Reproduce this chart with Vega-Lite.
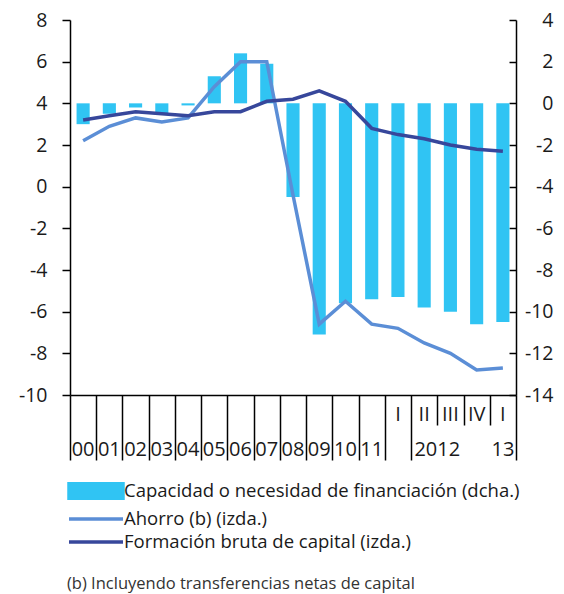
{
  "$schema": "https://vega.github.io/schema/vega-lite/v6.json",
  "width": 446,
  "height": 375,
  "autosize": {"type": "none"},
  "padding": {"left": 70, "top": 20, "right": 48, "bottom": 199},
  "config": {
    "font": "Open Sans",
    "view": {"stroke": null},
    "axis": {
      "grid": false,
      "domainColor": "#000000",
      "tickColor": "#000000",
      "labelColor": "#1a1a1a",
      "labelFont": "Open Sans",
      "labelFontSize": 19.5,
      "domainWidth": 1.5,
      "tickWidth": 1.5
    }
  },
  "data": {
    "values": [
      {"periodo": "00", "cap": -1.0, "ahorro": 2.2, "fbc": 3.2},
      {"periodo": "01", "cap": -0.5, "ahorro": 2.9, "fbc": 3.4},
      {"periodo": "02", "cap": -0.2, "ahorro": 3.3, "fbc": 3.6},
      {"periodo": "03", "cap": -0.5, "ahorro": 3.1, "fbc": 3.5},
      {"periodo": "04", "cap": -0.1, "ahorro": 3.3, "fbc": 3.4},
      {"periodo": "05", "cap": 1.3, "ahorro": 4.8, "fbc": 3.6},
      {"periodo": "06", "cap": 2.4, "ahorro": 6.0, "fbc": 3.6},
      {"periodo": "07", "cap": 1.9, "ahorro": 6.0, "fbc": 4.1},
      {"periodo": "08", "cap": -4.5, "ahorro": -0.4, "fbc": 4.2},
      {"periodo": "09", "cap": -11.1, "ahorro": -6.6, "fbc": 4.6},
      {"periodo": "10", "cap": -9.6, "ahorro": -5.5, "fbc": 4.1},
      {"periodo": "11", "cap": -9.4, "ahorro": -6.6, "fbc": 2.8},
      {"periodo": "2012-I", "cap": -9.3, "ahorro": -6.8, "fbc": 2.5},
      {"periodo": "2012-II", "cap": -9.8, "ahorro": -7.5, "fbc": 2.3},
      {"periodo": "2012-III", "cap": -10.0, "ahorro": -8.0, "fbc": 2.0},
      {"periodo": "2012-IV", "cap": -10.6, "ahorro": -8.8, "fbc": 1.8},
      {"periodo": "2013-I", "cap": -10.5, "ahorro": -8.7, "fbc": 1.7}
    ]
  },
  "layer": [
    {
      "mark": {"type": "bar", "width": {"band": 0.5}},
      "encoding": {
        "x": {
          "field": "periodo",
          "type": "nominal",
          "sort": null,
          "scale": {"paddingInner": 0, "paddingOuter": 0},
          "axis": {
            "orient": "bottom",
            "title": null,
            "labels": false,
            "domain": true,
            "ticks": true,
            "tickBand": "extent",
            "tickSize": {"condition": {"test": "indexof(['2012-II','2012-III','2012-IV'], datum.value) >= 0", "value": 30}, "value": 65}
          }
        },
        "y": {
          "field": "cap",
          "type": "quantitative",
          "scale": {"domain": [-14, 4], "nice": false, "zero": false},
          "axis": {
            "orient": "right",
            "title": null,
            "values": [-14, -12, -10, -8, -6, -4, -2, 0, 2, 4],
            "labelExpr": "'' + datum.value",
            "tickSize": -7,
            "labelPadding": 44,
            "labelAlign": "right"
          }
        },
        "color": {
          "datum": "Capacidad o necesidad de financiación (dcha.)",
          "scale": {
            "domain": ["Capacidad o necesidad de financiación (dcha.)", "Ahorro (b) (izda.)", "Formación bruta de capital (izda.)"],
            "range": ["#30C4F3", "#5B8ED6", "#37479B"]
          },
          "legend": {
            "orient": "none",
            "legendX": -3,
            "legendY": 461,
            "title": "(b) Incluyendo transferencias netas de capital",
            "titleOrient": "bottom",
            "titleAnchor": "start",
            "titlePadding": 24,
            "titleFontSize": 16.5,
            "titleFontWeight": "normal",
            "titleColor": "#333333",
            "titleLimit": 500,
            "labelFontSize": 18.5,
            "labelColor": "#1a1a1a",
            "labelLimit": 500,
            "labelOffset": 37,
            "symbolSize": 256,
            "rowPadding": 3,
            "encode": {
              "symbols": {
                "update": {
                  "shape": {"signal": "datum.value === 'Capacidad o necesidad de financiación (dcha.)' ? 'M-1,-0.9H5.75V0.9H-1Z' : 'M-1,0H5.75'"},
                  "fill": {"signal": "datum.value === 'Capacidad o necesidad de financiación (dcha.)' ? '#30C4F3' : 'transparent'"},
                  "stroke": {"signal": "datum.value === 'Ahorro (b) (izda.)' ? '#5B8ED6' : (datum.value === 'Formación bruta de capital (izda.)' ? '#37479B' : 'transparent')"},
                  "strokeWidth": {"value": 3.5},
                  "opacity": {"value": 1}
                }
              }
            }
          }
        }
      }
    },
    {
      "mark": {"type": "line", "strokeWidth": 3.5},
      "encoding": {
        "x": {
          "field": "periodo",
          "type": "nominal",
          "sort": null,
          "axis": {
            "orient": "bottom",
            "title": null,
            "domain": false,
            "ticks": false,
            "labelExpr": "indexof(datum.value, '-') > 0 ? split(datum.value, '-')[1] : ''",
            "labelBaseline": "alphabetic",
            "labelPadding": 25,
            "labelFontSize": 20,
            "labelOverlap": false,
            "labelBound": false,
            "labelAngle": 0
          }
        },
        "y": {
          "field": "ahorro",
          "type": "quantitative",
          "scale": {"domain": [-10, 8], "nice": false, "zero": false},
          "axis": {
            "orient": "left",
            "title": null,
            "values": [-10, -8, -6, -4, -2, 0, 2, 4, 6, 8],
            "labelExpr": "'' + datum.value",
            "tickSize": 8,
            "labelPadding": 15
          }
        },
        "color": {"datum": "Ahorro (b) (izda.)"}
      }
    },
    {
      "mark": {"type": "line", "strokeWidth": 3.5},
      "encoding": {
        "x": {
          "field": "periodo",
          "type": "nominal",
          "sort": null,
          "axis": {
            "orient": "bottom",
            "title": null,
            "domain": false,
            "ticks": false,
            "labelExpr": "datum.value == '2012-II' ? '2012' : (datum.value == '2013-I' ? '13' : (indexof(datum.value, '-') > 0 ? '' : datum.value))",
            "labelOffset": {"condition": {"test": "datum.value == '2012-II'", "value": 13.1}, "value": 0},
            "labelBaseline": "alphabetic",
            "labelPadding": 60,
            "labelFontSize": 20,
            "labelOverlap": false,
            "labelBound": false,
            "labelAngle": 0
          }
        },
        "y": {
          "field": "fbc",
          "type": "quantitative",
          "scale": {"domain": [-10, 8], "nice": false, "zero": false},
          "axis": null
        },
        "color": {"datum": "Formación bruta de capital (izda.)"}
      }
    }
  ],
  "resolve": {"scale": {"y": "independent"}, "axis": {"x": "independent"}}
}
